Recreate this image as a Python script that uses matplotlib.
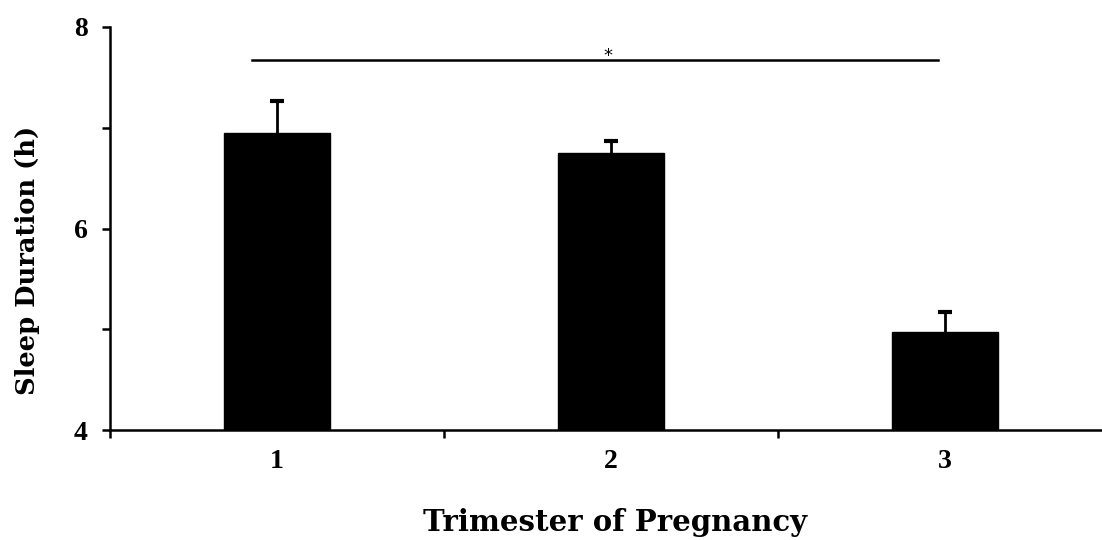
import matplotlib.pyplot as plt
import numpy as np

# trimester means and SEM (upper only)
trimesters = ["1", "2", "3"]
sleep_hours = [6.95, 6.75, 4.97]
sleep_err = [0.32, 0.12, 0.20]

plt.rcParams["font.family"] = "Liberation Serif"
plt.rcParams["font.weight"] = "bold"

fig = plt.figure(figsize=(11.02, 5.4), dpi=100)
# axes placed in pixels: left 110, bottom 430, top 27, right runs off the page a bit
W, H = 1102, 540
ax = fig.add_axes([110 / W, (H - 430) / H, 1002 / W, 403 / H])

x = np.arange(1, len(trimesters) + 1)
# error bars drawn under the bars so only the upper half shows
ax.errorbar(x, sleep_hours, yerr=sleep_err, fmt="none", ecolor="black",
            elinewidth=2, capsize=5, capthick=3, zorder=2)
ax.bar(x, sleep_hours, width=0.32, color="black", edgecolor="black", zorder=3)

ax.set_xlim(0.5, 3.5)
ax.set_ylim(4, 8)
ax.set_yticks([4, 5, 6, 7, 8])
ax.set_yticklabels(["4", "", "6", "", "8"])
ax.set_xticks(x)
ax.set_xticklabels(trimesters)
ax.set_xticks([0.5, 1.5, 2.5, 3.5], minor=True)

for s in ["top", "right"]:
    ax.spines[s].set_visible(False)
for s in ["left", "bottom"]:
    ax.spines[s].set_linewidth(1.8)

ax.tick_params(axis="y", direction="out", length=6, width=1.8, pad=10,
               labelsize=20)
ax.tick_params(axis="x", which="major", length=0, pad=14, labelsize=20)
ax.tick_params(axis="x", which="minor", direction="out", length=6, width=1.8)

# significance bar 1 vs 3
ax.plot([0.924, 2.978], [7.67, 7.67], color="black", lw=1.8, clip_on=False)
ax.text(1.99, 7.62, "*", ha="center", va="bottom", fontsize=13,
        family="DejaVu Sans", weight="normal")

fig.text(28 / W, 1 - 260 / H, "Sleep Duration (h)", rotation=90,
         ha="center", va="center", family="DejaVu Serif", weight="bold",
         fontsize=18.5)
fig.text(615 / W, 1 - 531 / H, "Trimester of Pregnancy", ha="center",
         va="baseline", family="DejaVu Serif", weight="bold", fontsize=21)

fig.savefig("out.png", dpi=100)
